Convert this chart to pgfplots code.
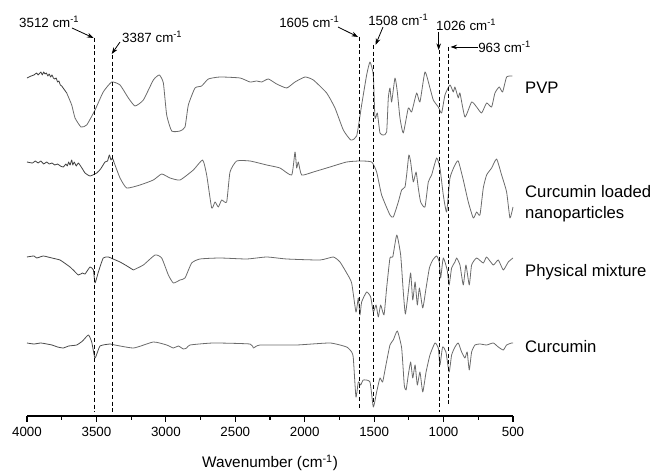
\documentclass[border=0pt]{standalone}
\usepackage{pgfplots}
\pgfplotsset{compat=1.18}
\usepackage{fontspec}
\setmainfont{Liberation Sans}
\usetikzlibrary{arrows.meta}
\pgfplotsset{spec/.style={color=black!58, line width=0.6pt, mark=none, line join=round, smooth, tension=0.3}}
\begin{document}
\begin{tikzpicture}
\useasboundingbox (0,0) rectangle (492pt,354.75pt);
\begin{axis}[
  at={(20.25pt,42.75pt)}, anchor=south west,
  scale only axis, width=364.5pt, height=312pt,
  x dir=reverse, xmin=500, xmax=4000, ymin=0, ymax=416,
  enlargelimits=false, clip=false,
  axis y line=none, axis x line=bottom,
  x axis line style={-, line width=0.8pt},
  xtick={4000,3500,3000,2500,2000,1500,1000,500},
  xticklabels={4000,3500,3000,2500,2000,1500,1000,500},
  minor x tick num=1,
  xtick align=outside,
  major tick length=4.5pt, minor tick length=3pt,
  every tick/.style={black, line width=0.8pt},
  tick label style={font=\fontsize{10}{12}\selectfont},
  xlabel={Wavenumber (cm\textsuperscript{-1})},
  xlabel style={font=\fontsize{11.5}{13}\selectfont, yshift=-7pt},
]
% PVP
\addplot[spec, black!75] coordinates {(4000,338)(3970,340)(3950,341)(3930,343)(3920,341)(3900,344)(3890,341)(3880,344)(3870,342)(3860,343)(3850,340)(3840,342)(3830,339)(3820,341)(3810,338)(3800,337)(3790,338)(3780,334)(3770,335)(3760,331)(3750,330)(3714,323)};
\addplot[spec] coordinates {(3714,323)(3678,311)(3654,298)(3611,289)(3570,291)(3510,306)(3451,324)(3390,334)(3330,331)(3270,318)(3222,310)(3162,316)(3090,336)(3047,341)(3018,333)(2994,301)(2958,285)(2898,285)(2862,289)(2838,311)(2790,328)(2742,330)(2694,337)(2610,339)(2466,338)(2394,334)(2346,335)(2310,334)(2262,337)(2202,332)(2130,328)(2070,334)(1998,339)(1938,336)(1842,323)(1782,308)(1722,286)(1668,276)(1626,280)(1590,311)(1554,341)(1530,354)(1506,341)(1494,298)(1477,303)(1458,283)(1434,281)(1410,284)(1398,318)(1386,328)(1374,314)(1350,338)(1333,324)(1314,298)(1290,283)(1254,308)(1230,304)(1194,323)(1170,314)(1134,344)(1098,328)(1074,316)(1038,309)(1014,303)(990,321)(954,331)(930,324)(918,329)(894,318)(882,323)(846,299)(798,314)(762,309)(726,303)(690,313)(654,309)(630,323)(599,329)(575,324)(546,339)(505,340)};
% Curcumin loaded nanoparticles
\addplot[spec, black!75] coordinates {(4000,254)(3960,253)(3940,255)(3920,253)(3900,255)(3880,252)(3858,254)(3840,252)(3820,253)(3800,251)(3780,252)(3760,250)(3738,249)(3720,252)(3710,250)(3700,254)(3690,251)(3678,256)(3670,251)(3660,254)(3645,250)(3630,253)(3600,247)(3582,243)(3546,240)(3498,243)(3470,247)(3438,254)(3420,255)(3407,261)(3395,256)(3385,258)(3374,254)};
\addplot[spec] coordinates {(3374,254)(3330,238)(3282,228)(3186,231)(3090,236)(3030,242)(2970,238)(2898,236)(2802,246)(2735,256)(2706,241)(2670,208)(2646,214)(2622,209)(2598,216)(2562,214)(2538,244)(2490,255)(2394,255)(2274,251)(2178,248)(2094,241)(2070,264)(2058,248)(2046,254)(2022,241)(1938,244)(1818,249)(1698,254)(1602,255)(1518,254)(1482,244)(1446,221)(1386,201)(1362,199)(1326,214)(1302,226)(1278,229)(1266,241)(1250,261)(1237,254)(1218,234)(1198,244)(1182,228)(1165,214)(1134,209)(1110,234)(1086,241)(1050,258)(1026,248)(1002,221)(978,204)(954,238)(918,251)(894,255)(858,236)(822,214)(786,198)(762,204)(738,201)(714,228)(690,241)(654,248)(618,257)(582,241)(546,224)(522,198)(500,209)};
% Physical mixture
\addplot[spec, black!72] coordinates {(4000,159)(3950,160)(3930,158)(3883,160)(3850,159)(3820,158)(3790,157)(3762,156)(3730,153)(3690,149)(3660,145)(3630,141)(3600,143)(3582,142)(3546,149)(3522,146)(3510,133)(3486,144)(3451,158)(3414,159)(3380,157)(3330,154)(3280,150)(3234,146)};
\addplot[spec] coordinates {(3234,146)(3162,151)(3078,161)(3030,158)(2982,141)(2946,133)(2898,136)(2862,138)(2814,153)(2754,157)(2610,158)(2418,157)(2274,159)(2130,157)(1890,156)(1794,159)(1746,154)(1698,143)(1662,133)(1631,104)(1614,118)(1602,101)(1590,114)(1554,124)(1525,119)(1506,104)(1486,111)(1470,99)(1453,111)(1429,101)(1410,128)(1386,158)(1366,159)(1337,181)(1309,161)(1290,124)(1275,102)(1254,124)(1237,143)(1222,116)(1205,134)(1189,111)(1174,128)(1150,108)(1126,128)(1102,148)(1078,156)(1050,160)(1031,154)(1021,138)(1002,158)(974,146)(960,131)(942,148)(918,154)(906,158)(882,151)(858,131)(839,151)(815,131)(798,151)(762,158)(714,153)(690,159)(642,151)(606,156)(570,146)(534,154)(500,158)};
% Curcumin
\addplot[spec, black!70] coordinates {(4000,73)(3950,72)(3900,73)(3858,72)(3820,71)(3780,69)(3738,68)(3700,70)(3642,71)(3600,75)(3558,81)(3534,74)(3510,58)(3474,70)(3402,72)};
\addplot[spec] coordinates {(3402,72)(3234,68)(3090,74)(2994,71)(2946,68)(2910,70)(2874,67)(2850,68)(2826,71)(2658,73)(2394,72)(2370,68)(2322,71)(2058,71)(1818,73)(1698,69)(1662,64)(1650,58)(1631,19)(1614,34)(1597,31)(1578,36)(1530,34)(1506,9)(1482,24)(1458,38)(1439,34)(1415,51)(1386,71)(1362,76)(1333,85)(1302,68)(1283,31)(1270,26)(1254,41)(1237,54)(1222,38)(1205,51)(1189,31)(1170,44)(1150,24)(1126,44)(1098,61)(1062,73)(1038,68)(1026,51)(1007,69)(983,64)(960,44)(942,61)(918,69)(894,73)(870,64)(846,58)(830,64)(815,46)(798,64)(774,71)(738,72)(690,71)(642,73)(606,69)(570,66)(546,71)(510,73)(500,73)};
% dashed markers
\begin{scope}[black, line width=0.75pt, dash pattern=on 3pt off 2pt]
\draw (axis cs:3512,378) -- (axis cs:3512,4);
\draw (axis cs:3387,361) -- (axis cs:3387,4);
\draw (axis cs:1605,379) -- (axis cs:1605,6);
\draw (axis cs:1508,371) -- (axis cs:1508,11);
\draw (axis cs:1026,366) -- (axis cs:1026,4);
\draw (axis cs:963,369) -- (axis cs:963,12);
\end{scope}
\begin{scope}[black, line width=0.6pt, -{Stealth[length=5pt,width=3.5pt]}]
\draw (axis cs:3676,388) -- (axis cs:3520,378);
\draw (axis cs:3330,374) -- (axis cs:3390,362);
\draw (axis cs:1760,389) -- (axis cs:1615,379);
\draw (axis cs:1436,389) -- (axis cs:1490,371);
\draw (axis cs:1035,384) -- (axis cs:1035,366);
\draw (axis cs:752,369) -- (axis cs:950,369);
\end{scope}
\begin{scope}[every node/.style={font=\fontsize{10}{12}\selectfont, anchor=west, inner sep=0pt}]
\node at (axis cs:4058,394) {3512 cm\textsuperscript{-1}};
\node at (axis cs:3316,379) {3387 cm\textsuperscript{-1}};
\node at (axis cs:2185,394) {1605 cm\textsuperscript{-1}};
\node at (axis cs:1544,396) {1508 cm\textsuperscript{-1}};
\node at (axis cs:1055,391) {1026 cm\textsuperscript{-1}};
\node at (axis cs:752,369) {963 cm\textsuperscript{-1}};
\end{scope}
\begin{scope}[every node/.style={font=\fontsize{12.5}{16}\selectfont, anchor=west, inner sep=0pt, align=left}]
\node at (axis cs:414,328) {PVP};
\node at (axis cs:414,212) {Curcumin loaded\\nanoparticles};
\node at (axis cs:414,144) {Physical mixture};
\node at (axis cs:414,69) {Curcumin};
\end{scope}
\end{axis}
\end{tikzpicture}
\end{document}
